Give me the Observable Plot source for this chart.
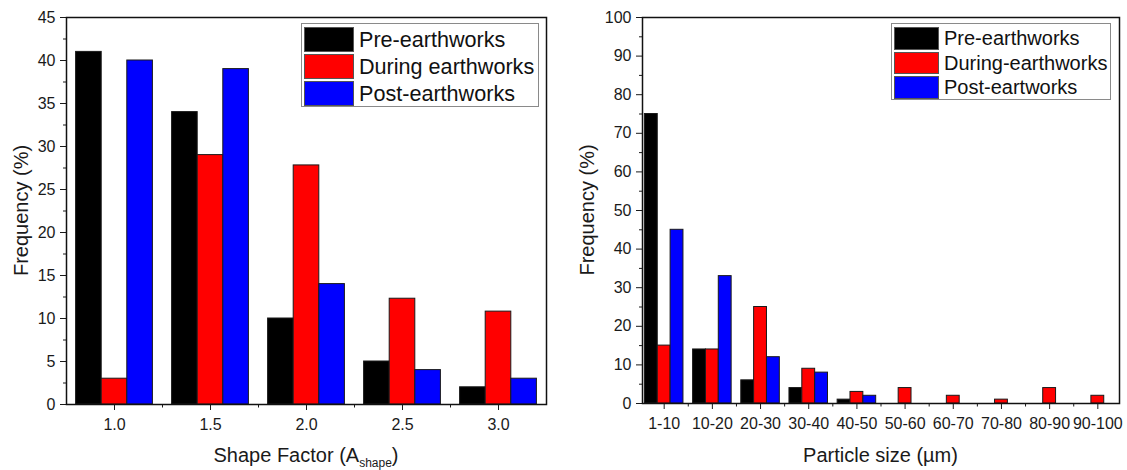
<!DOCTYPE html>
<html><head><meta charset="utf-8">
<script src="https://cdn.jsdelivr.net/npm/d3@7"></script>
<script src="https://cdn.jsdelivr.net/npm/@observablehq/plot@0.6"></script>
<style>
body{margin:0;background:#fff;font-family:Arial,"Liberation Sans",sans-serif;}
#wrap{position:relative;width:1127px;height:470px;overflow:hidden;}
.panel{position:absolute;top:0;}
.legend{position:absolute;border:1px solid #8a8a8a;background:#fff;box-sizing:border-box;padding:2px;color:#111;}
.legend .row{display:flex;align-items:center;}
.legend .sw{border:1px solid #555;box-sizing:border-box;flex:none;}
</style></head><body><div id="wrap"></div>
<script>
// ---- data ----
const seriesColors = ["#000000", "#ff0000", "#0000ff"];
const leftSeriesNames = ["Pre-earthworks", "During earthworks", "Post-earthworks"];
const rightSeriesNames = ["Pre-earthworks", "During-earthworks", "Post-eartworks"];

const shapeFactor = [1.0, 1.5, 2.0, 2.5, 3.0];
const shapePre = [41, 34, 10, 5, 2];
const shapeDuring = [3, 29, 27.8, 12.3, 10.8];
const shapePost = [40, 39, 14, 4, 3];
const shapeYTicks = [0, 5, 10, 15, 20, 25, 30, 35, 40, 45];

const sizeBins = ["1-10", "10-20", "20-30", "30-40", "40-50", "50-60", "60-70", "70-80", "80-90", "90-100"];
const sizePre = [75, 14, 6, 4, 1, 0, 0, 0, 0, 0];
const sizeDuring = [15, 14, 25, 9, 3, 4, 2, 1, 4, 2];
const sizePost = [45, 33, 12, 8, 2, 0, 0, 0, 0, 0];
const sizeYTicks = [0, 10, 20, 30, 40, 50, 60, 70, 80, 90, 100];

// ---- helpers ----
function buildRows(xs, seriesArrays) {
  const rows = [];
  seriesArrays.forEach((arr, s) => arr.forEach((v, i) => { if (v > 0) rows.push({x: xs[i], s, v}); }));
  return rows;
}
const wrap = document.getElementById("wrap");
const FONT = "Arial, 'Liberation Sans', sans-serif";

function makeChart({left, width, marginLeft, marginRight, marginTop, marginBottom, xDomain, step, xs, xTickFormat, yDomain, yTicks, yMinor, xMinor, rows, xTitle, xSub, xTitleTail, yTitleX}) {
  const bw = step * 0.8 / 3;
  const chart = Plot.plot({
    width, height: 470, marginLeft, marginRight, marginTop, marginBottom,
    style: {fontFamily: FONT, color: "#1a1a1a", background: "transparent"},
    x: {domain: xDomain},
    y: {domain: yDomain},
    color: {type: "ordinal", domain: [0, 1, 2], range: seriesColors},
    marks: [
      Plot.rect(rows, {
        x1: d => d.x + (d.s - 1) * bw - bw / 2,
        x2: d => d.x + (d.s - 1) * bw + bw / 2,
        y1: 0, y2: "v", fill: "s", stroke: "#1a1a1a", strokeWidth: 1
      }),
      Plot.axisY({ticks: yTicks, tickSize: 6, tickPadding: 5, fontSize: 16, label: null}),
      Plot.axisY({ticks: yMinor, tickSize: 3, tickFormat: () => "", label: null}),
      Plot.axisX({ticks: xs, tickSize: 6, tickPadding: 8, fontSize: 16, tickFormat: xTickFormat, label: null}),
      Plot.axisX({ticks: xMinor, tickSize: 3.5, tickFormat: () => "", label: null}),
      Plot.frame({stroke: "#111", strokeWidth: 1.5})
    ]
  });
  const div = document.createElement("div");
  div.className = "panel";
  div.style.left = left + "px";
  div.appendChild(chart);
  wrap.appendChild(div);
  const svg = d3.select(chart.tagName === "svg" ? chart : chart.querySelector("svg"));
  const cx = (marginLeft + width - marginRight) / 2;
  const t = svg.append("text").attr("x", cx).attr("y", 462).attr("text-anchor", "middle")
    .attr("font-size", 20).attr("font-family", FONT).attr("fill", "#1a1a1a");
  t.append("tspan").text(xTitle);
  if (xSub) {
    t.append("tspan").attr("font-size", 12).attr("dy", 5).text(xSub);
    t.append("tspan").attr("dy", -5).text(xTitleTail);
  }
  const cy = (marginTop + 470 - marginBottom) / 2;
  svg.append("text").attr("transform", `translate(${yTitleX},${cy}) rotate(-90)`)
    .attr("text-anchor", "middle").attr("font-size", 20).attr("font-family", FONT)
    .attr("fill", "#1a1a1a").text("Frequency (%)");
}

function makeLegend({left, top, width, height, names, swW, swH, fontSize, gap}) {
  const lg = document.createElement("div");
  lg.className = "legend";
  Object.assign(lg.style, {left: left + "px", top: top + "px", width: width + "px", height: height + "px", fontSize: fontSize + "px"});
  names.forEach((n, i) => {
    const row = document.createElement("div");
    row.className = "row";
    row.style.height = (swH + 2) + "px";
    const sw = document.createElement("div");
    sw.className = "sw";
    Object.assign(sw.style, {width: swW + "px", height: swH + "px", background: seriesColors[i]});
    const tx = document.createElement("span");
    tx.style.marginLeft = gap + "px";
    tx.style.lineHeight = "1";
    tx.textContent = n;
    row.appendChild(sw); row.appendChild(tx);
    lg.appendChild(row);
  });
  wrap.appendChild(lg);
}

// ---- left chart: shape factor ----
makeChart({
  left: 0, width: 560, marginLeft: 66, marginRight: 14, marginTop: 17, marginBottom: 66,
  xDomain: [0.75, 3.25], step: 0.5, xs: shapeFactor, xTickFormat: d3.format(".1f"),
  yDomain: [0, 45], yTicks: shapeYTicks, yMinor: shapeYTicks.slice(0, -1).map(v => v + 2.5),
  xMinor: shapeFactor.slice(0, -1).map(v => v + 0.25),
  rows: buildRows(shapeFactor, [shapePre, shapeDuring, shapePost]),
  xTitle: "Shape Factor (A", xSub: "shape", xTitleTail: ")", yTitleX: 28
});

// ---- right chart: particle size ----
const sizeIdx = sizeBins.map((_, i) => i + 1);
makeChart({
  left: 560, width: 567, marginLeft: 82, marginRight: 8, marginTop: 17, marginBottom: 67,
  xDomain: [0.55, 10.45], step: 1, xs: sizeIdx, xTickFormat: d => sizeBins[d - 1],
  yDomain: [0, 100], yTicks: sizeYTicks, yMinor: sizeYTicks.slice(0, -1).map(v => v + 5),
  xMinor: sizeIdx.slice(0, -1).map(v => v + 0.5),
  rows: buildRows(sizeIdx, [sizePre, sizeDuring, sizePost]),
  xTitle: "Particle size (\u00b5m)", yTitleX: 34
});

makeLegend({left: 301, top: 23, width: 238, height: 84, names: leftSeriesNames, swW: 50, swH: 25, fontSize: 21.6, gap: 5});
makeLegend({left: 891, top: 23, width: 220, height: 77, names: rightSeriesNames, swW: 45, swH: 22.5, fontSize: 20, gap: 5});
</script></body></html>
